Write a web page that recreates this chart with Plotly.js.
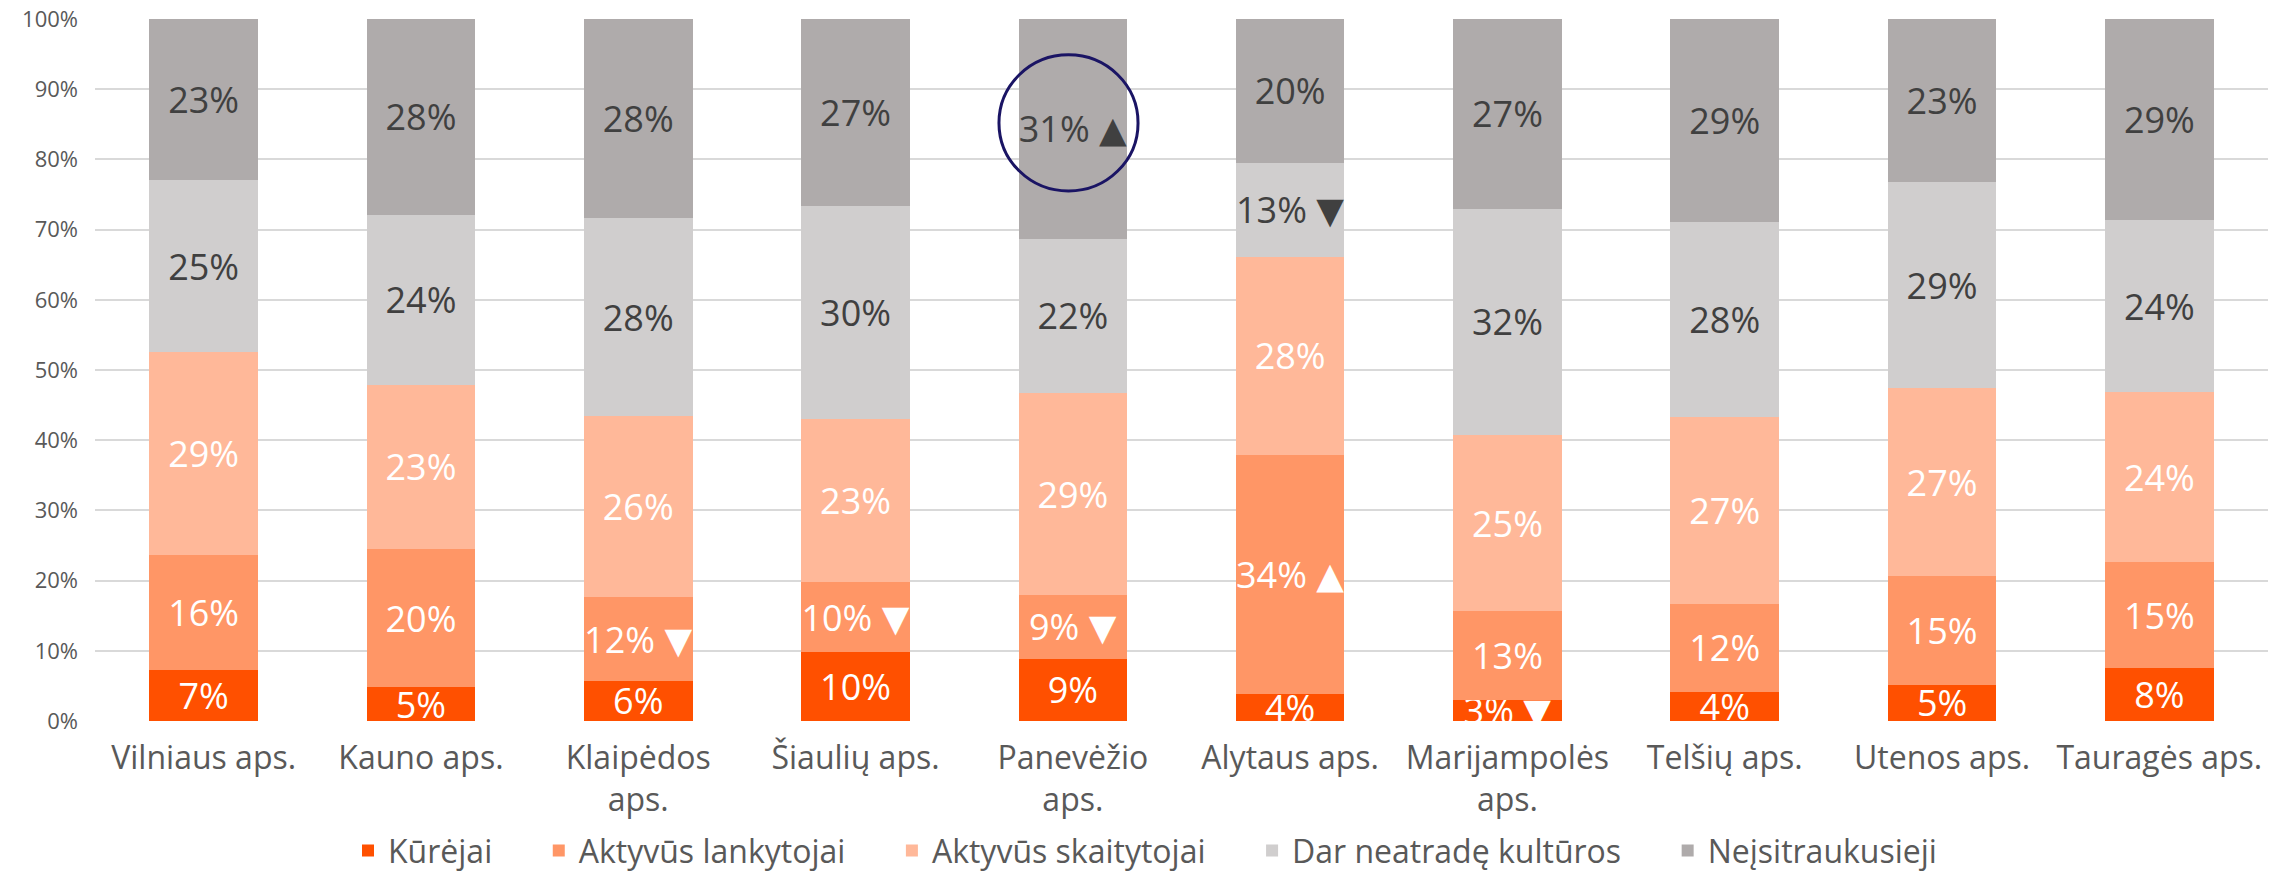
<!DOCTYPE html>
<html>
<head>
<meta charset="utf-8">
<script src="https://cdn.plot.ly/plotly-3.0.1.min.js"></script>
<style>
  html, body { margin: 0; padding: 0; background: #ffffff; }
  #chart { width: 2290px; height: 878px; }
</style>
</head>
<body>
<div id="chart"></div>
<script>
// Categories (regions)
const categories = [
  'Vilniaus aps.', 'Kauno aps.', 'Klaipėdos<br>aps.', 'Šiaulių aps.', 'Panevėžio<br>aps.',
  'Alytaus aps.', 'Marijampolės<br>aps.', 'Telšių aps.', 'Utenos aps.', 'Tauragės aps.'
];

// Series names
const seriesNames = ['Kūrėjai', 'Aktyvūs lankytojai', 'Aktyvūs skaitytojai', 'Dar neatradę kultūros', 'Neįsitraukusieji'];

// Series values (% of population)
const kurejai      = [7.2, 4.8, 5.7, 9.8, 8.9, 3.8, 3.0, 4.2, 5.2, 7.5];
const lankytojai   = [16.4, 19.7, 11.9, 10.0, 9.0, 34.1, 12.6, 12.4, 15.4, 15.1];
const skaitytojai  = [28.9, 23.4, 25.9, 23.2, 28.8, 28.2, 25.1, 26.7, 26.8, 24.3];
const neatrade     = [24.6, 24.2, 28.1, 30.4, 22.0, 13.45, 32.3, 27.8, 29.4, 24.4];
const neisitrauke  = [22.9, 27.9, 28.4, 26.6, 31.3, 20.45, 27.0, 28.9, 23.2, 28.7];

// Change markers shown next to some labels
const markKurejai     = ['', '', '', '', '', '', '▼', '', '', ''];
const markLankytojai  = ['', '', '▼', '▼', '▼', '▲', '', '', '', ''];
const markSkaitytojai = ['', '', '', '', '', '', '', '', '', ''];
const markNeatrade    = ['', '', '', '', '', '▼', '', '', '', ''];
const markNeisitrauke = ['', '', '', '', '▲', '', '', '', '', ''];

const colors = ['#FF5000', '#FF9666', '#FFB899', '#D0CECE', '#AFABAB'];
const textColors = ['#FFFFFF', '#FFFFFF', '#FFFFFF', '#404040', '#404040'];

const allValues = [kurejai, lankytojai, skaitytojai, neatrade, neisitrauke];
const allMarks = [markKurejai, markLankytojai, markSkaitytojai, markNeatrade, markNeisitrauke];

const FONT = 'Open Sans, Noto Sans, DejaVu Sans, sans-serif';
const PAD = '\u00a0\u00a0\u00a0\u00a0\u00a0';

const traces = allValues.map((vals, i) => ({
  type: 'bar',
  name: seriesNames[i] + (i < seriesNames.length - 1 ? PAD : ''),
  x: categories,
  y: vals,
  marker: { color: colors[i], line: { width: 0 } },
  text: vals.map((v, j) => Math.round(v) + '%' + (allMarks[i][j] ? ' ' + allMarks[i][j] : '')),
  textposition: 'inside',
  insidetextanchor: 'middle',
  constraintext: 'none',
  textangle: 0,
  insidetextfont: { family: FONT, size: 36, color: textColors[i] },
  hoverinfo: 'skip'
}));

const layout = {
  width: 2290,
  height: 878,
  paper_bgcolor: '#ffffff',
  plot_bgcolor: '#ffffff',
  margin: { l: 95, r: 22, t: 19, b: 157, autoexpand: false },
  barmode: 'stack',
  bargap: 0.5,
  font: { family: FONT, color: '#595959' },
  showlegend: true,
  legend: {
    orientation: 'h',
    x: 0.5, xanchor: 'center', xref: 'container',
    y: 0.031, yanchor: 'middle', yref: 'container',
    font: { family: FONT, size: 32, color: '#595959' },
    traceorder: 'normal',
    itemwidth: 30
  },
  xaxis: {
    type: 'category',
    tickfont: { family: FONT, size: 32, color: '#595959' },
    showline: false,
    showgrid: false,
    zeroline: false,
    ticks: '',
    ticklabelstandoff: 15,
    fixedrange: true
  },
  yaxis: {
    range: [0, 100],
    tick0: 0,
    dtick: 10,
    ticksuffix: '%',
    showgrid: true,
    gridcolor: '#D9D9D9',
    gridwidth: 2,
    zeroline: false,
    showline: false,
    ticks: '',
    ticklabelstandoff: 16,
    tickfont: { family: FONT, size: 22, color: '#595959' },
    fixedrange: true
  },
  shapes: [{
    type: 'circle',
    xref: 'x', yref: 'y',
    x0: 3.66, x1: 4.30,
    y0: 75.5, y1: 94.9,
    line: { color: '#1A1464', width: 3 },
    fillcolor: 'rgba(0,0,0,0)',
    layer: 'above'
  }]
};

Plotly.newPlot('chart', traces, layout, { displayModeBar: false, staticPlot: true });
</script>
</body>
</html>
